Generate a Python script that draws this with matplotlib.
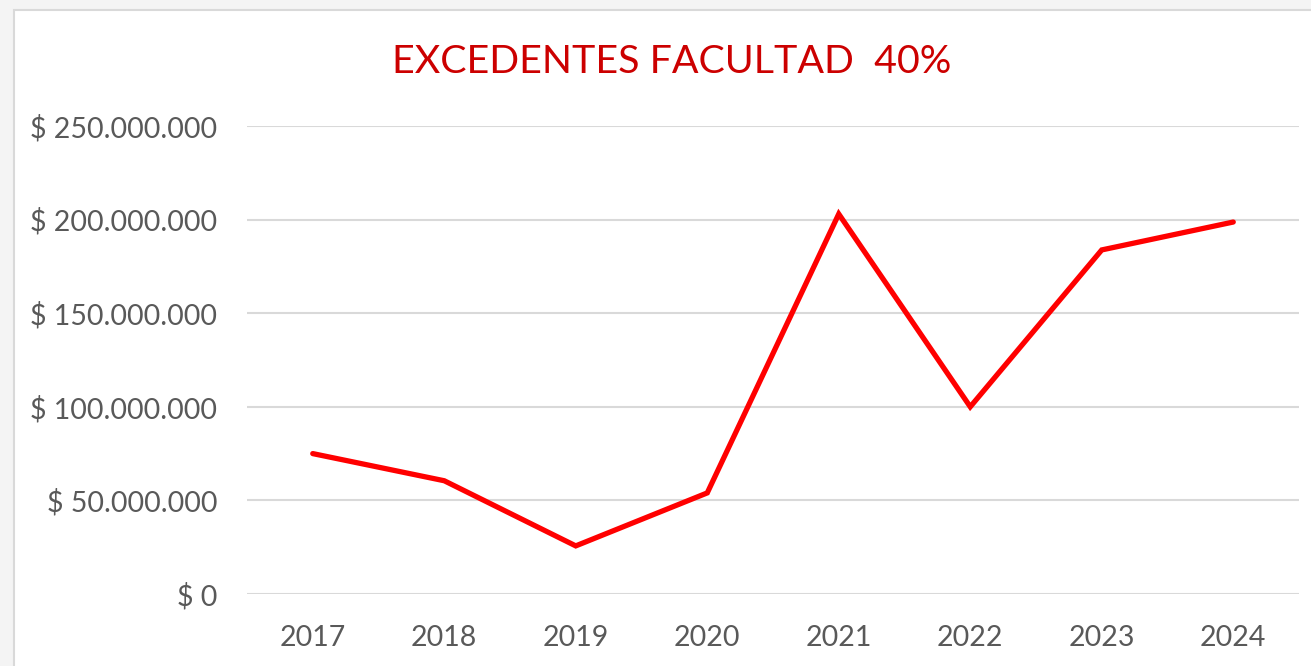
import matplotlib.pyplot as plt
from matplotlib.patches import Rectangle
from matplotlib.ticker import FuncFormatter

# Data
years = ["2017", "2018", "2019", "2020", "2021", "2022", "2023", "2024"]
excedentes = [75000000, 60500000, 25700000, 54000000, 203000000, 100000000, 183800000, 198700000]

plt.rcParams["font.family"] = ["Lato", "DejaVu Sans"]

fig = plt.figure(figsize=(13.11, 6.66), dpi=100)
fig.patch.set_facecolor("#f4f4f4")

# white chart area with light border
fig.patches.append(Rectangle((14 / 1311, -0.01), 1.02, 1 - 10 / 666 + 0.01,
                             transform=fig.transFigure, facecolor="white",
                             edgecolor="#d9d9d9", linewidth=1.5, zorder=-5))

ax = fig.add_axes([247 / 1311, 72 / 666, 1052 / 1311, 468 / 666])
ax.set_facecolor("white")
x = range(len(years))
ax.plot(x, excedentes, color="#ff0000", linewidth=3.8, solid_capstyle="round",
        solid_joinstyle="miter")

ax.set_xlim(-0.5, len(years) - 0.5)
ax.set_ylim(0, 250000000)
ax.set_yticks(range(0, 250000001, 50000000))
ax.yaxis.set_major_formatter(FuncFormatter(lambda v, p: "$ " + f"{int(v):,}".replace(",", ".")))
ax.set_xticks(list(x))
ax.set_xticklabels(years)

ax.grid(axis="y", color="#d9d9d9", linewidth=1.5)
ax.set_axisbelow(True)
for s in ax.spines.values():
    s.set_visible(False)
ax.tick_params(axis="both", length=0, labelsize=20.5, colors="#595959")
ax.tick_params(axis="y", pad=21.5)
ax.tick_params(axis="x", pad=22)

fig.text(672 / 1311, 1 - 62 / 666, "EXCEDENTES FACULTAD  40%", color="#cc0000",
         fontsize=28.4, ha="center", va="center")

fig.savefig("out.png", dpi=100, facecolor=fig.get_facecolor())
